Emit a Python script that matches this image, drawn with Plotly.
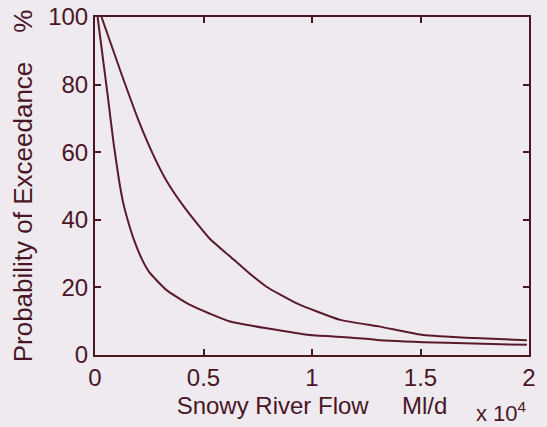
import plotly.graph_objects as go

# Flow in units of 10^4 Ml/d, probability of exceedance in %
upper_flow = [0.03, 0.12, 0.20, 0.27, 0.33, 0.42, 0.53, 0.62, 0.70, 0.79, 0.93, 1.13, 1.313, 1.513, 1.75, 1.99]
upper_prob = [100, 83.5, 69.5, 59, 51.5, 43, 34.3, 29.3, 24.8, 20.2, 15.3, 10.4, 8.4, 5.9, 5.0, 4.4]

lower_flow = [0.012, 0.04, 0.06, 0.085, 0.11, 0.13, 0.155, 0.18, 0.215, 0.25, 0.33, 0.438, 0.53, 0.622, 0.791, 0.991, 1.175, 1.313, 1.62, 1.99]
lower_prob = [100, 86, 76, 63, 52, 45, 39, 34, 28.5, 24.5, 19.2, 14.8, 12.2, 9.9, 7.9, 5.9, 5.2, 4.4, 3.6, 3.0]

x_ticks = [0, 0.5, 1, 1.5, 2]
x_tick_labels = ["0", "0.5", "1", "1.5", "2"]
y_ticks = [0, 20, 40, 60, 80, 100]
y_tick_labels = ["0", "20", "40", "60", "80", "100"]

ink = "#4a1626"
bg = "#eeeaf0"
font = "Liberation Sans, Arial, sans-serif"
nb = "\u00a0"

fig = go.Figure()
for xs, ys in [(upper_flow, upper_prob), (lower_flow, lower_prob)]:
    fig.add_trace(go.Scatter(x=xs, y=ys, mode="lines",
                             line=dict(color="#5a1a2c", width=2),
                             line_shape="spline", line_smoothing=0.5,
                             showlegend=False))

axis_common = dict(showgrid=False, zeroline=False, showline=True, linecolor=ink,
                   linewidth=2, mirror="ticks", ticks="inside", ticklen=6,
                   tickwidth=1.5, tickcolor=ink, automargin=False,
                   tickfont=dict(family=font, size=24, color=ink))

fig.update_xaxes(range=[0, 2], tickvals=x_ticks, ticktext=x_tick_labels,
                 title=dict(text="Snowy River Flow" + nb * 5 + "Ml/d", standoff=7,
                            font=dict(family=font, size=24, color=ink)),
                 **axis_common)
fig.update_yaxes(range=[0, 100], tickvals=y_ticks, ticktext=y_tick_labels,
                 title=dict(text="Probability of Exceedance" + nb * 4 + "%", standoff=8,
                            font=dict(family=font, size=26, color=ink)),
                 **axis_common)

fig.add_annotation(x=1.0, xref="paper", y=-0.168, yref="paper",
                   text="x 10<sup>4</sup>", showarrow=False,
                   xanchor="right", yanchor="middle",
                   font=dict(family=font, size=22, color=ink))

fig.update_layout(width=547, height=427,
                  margin=dict(l=95, r=18, t=17, b=72),
                  paper_bgcolor=bg, plot_bgcolor=bg)

fig.write_html("out.html", config={"displayModeBar": False},
               post_script="document.body.style.margin='0';"
                           "document.body.style.background='#eeeaf0';")
